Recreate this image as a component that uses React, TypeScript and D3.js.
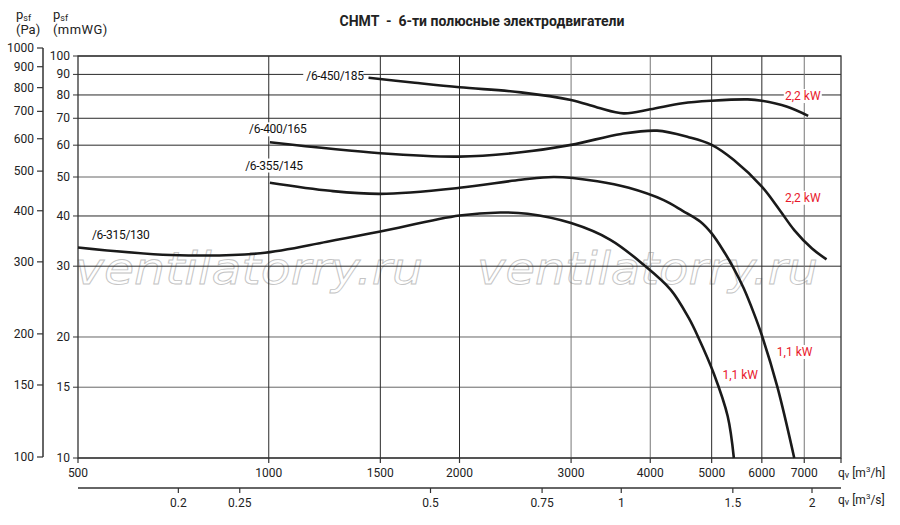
import * as d3 from 'd3'

// flow [m3/h] and pressure [mmWG]
const q450 = [1437, 1700, 2000, 2500, 3000, 3300, 3630, 4000, 4500, 5000, 5700, 6000, 6580, 7100]
const p450 = [88.3, 85.8, 83.6, 81.2, 77.7, 74.5, 72.0, 73.7, 76.3, 77.4, 78.0, 77.4, 74.8, 71.0]

const q400 = [1004, 1500, 2000, 2500, 3000, 3600, 4100, 4600, 5000, 5420, 6000, 6400, 6750, 7200, 7590]
const p400 = [61.0, 57.3, 56.2, 57.6, 60.1, 64.0, 65.2, 62.8, 60.1, 55.1, 47.3, 41.4, 36.9, 33.2, 31.2]

const q355 = [1004, 1250, 1500, 2000, 2500, 2820, 3300, 3700, 4200, 4500, 4800, 5000, 5230, 5420, 5620, 5830, 6000, 6350, 6750]
const p355 = [48.4, 46.2, 45.4, 47.0, 49.2, 50.0, 48.8, 47.0, 43.8, 41.2, 38.7, 36.2, 32.6, 29.6, 26.4, 22.9, 20.2, 15.0, 10.0]

const q315 = [500, 700, 970, 1236, 1500, 2000, 2320, 2560, 3000, 3460, 3910, 4310, 4600, 4760, 5040, 5300, 5420]
const p315 = [33.4, 32.0, 32.3, 34.5, 36.6, 40.1, 40.8, 40.5, 38.4, 34.9, 30.2, 26.2, 22.3, 20.0, 16.2, 12.7, 10.0]

const curves = [
  { name: '/6-450/185', q: q450, p: p450, lq: 1146, lp: 89.0 },
  { name: '/6-400/165', q: q400, p: p400, lq: 931, lp: 65.7 },
  { name: '/6-355/145', q: q355, p: p355, lq: 918, lp: 53.4 },
  { name: '/6-315/130', q: q315, p: p315, lq: 526, lp: 35.9 },
]

const powerLabels = [
  { text: '2,2 kW', q: 6963, p: 79.5 },
  { text: '2,2 kW', q: 6963, p: 44.4 },
  { text: '1,1 kW', q: 5546, p: 16.1 },
  { text: '1,1 kW', q: 6760, p: 18.35 },
]

const mmTicks = [100, 90, 80, 70, 60, 50, 40, 30, 20, 15, 10]
const paTicks = [1000, 900, 800, 700, 600, 500, 400, 300, 200, 150, 100]
const qhTicks = [500, 1000, 1500, 2000, 3000, 4000, 5000, 6000, 7000]
const qsTicks = [0.2, 0.25, 0.5, 0.75, 1, 1.5, 2]
const greyV = [3000, 4000, 7000]
const greyH = [50, 20, 15]

const W = 900
const H = 525
const font = 'Roboto, "Noto Sans", sans-serif'

export default function App() {
  const x = d3.scaleLog().domain([500, 8000]).range([78, 841])
  const y = d3.scaleLog().domain([10, 100]).range([458, 56])
  const yPa = d3.scaleLog().domain([100, 1000]).range([457, 48])

  const line = d3
    .line<[number, number]>()
    .x((d) => x(d[0]))
    .y((d) => y(d[1]))
    .curve(d3.curveCatmullRom.alpha(0.5))

  const x0 = x.range()[0]
  const x1 = x.range()[1]
  const yTop = y.range()[1]
  const yBot = y.range()[0]
  const ySec = 488

  return (
    <svg width={W} height={H} style={{ position: 'absolute', left: 0, top: 0, background: '#fff' }} fontFamily={font}>
      <rect width={W} height={H} fill="#fff" />

      {/* title */}
      <text x={482} y={26} textAnchor="middle" fontSize={14} fontWeight="bold" fill="#222" style={{ whiteSpace: 'pre' }}>
        {'CHMT  -  6-ти полюсные электродвигатели'}
      </text>

      {/* axis headers */}
      <g fontSize={13} fill="#222">
        <text x={16} y={19}>p<tspan fontSize={9} dy={2}>sf</tspan></text>
        <text x={16} y={34}>(Pa)</text>
        <text x={53} y={19}>p<tspan fontSize={9} dy={2}>sf</tspan></text>
        <text x={53} y={34} letterSpacing={0.4}>(mmWG)</text>
      </g>

      {/* watermark */}
      <g fill="none" stroke="#c4c4c4" strokeWidth={0.9} fontSize={44} fontStyle="italic" fontFamily="'DejaVu Sans', sans-serif">
        <text x={75} y={284} textLength={348} lengthAdjust="spacingAndGlyphs">ventilatorry.ru</text>
        <text x={477} y={284} textLength={341} lengthAdjust="spacingAndGlyphs">ventilatorry.ru</text>
      </g>

      {/* horizontal grid */}
      {mmTicks.map((t) => (
        <line key={'h' + t} x1={x0} x2={x1} y1={y(t)} y2={y(t)} stroke={greyH.includes(t) ? '#666' : '#2a2a2a'} strokeWidth={1} />
      ))}
      {/* vertical grid */}
      {qhTicks.slice(1).map((t) => (
        <line key={'v' + t} x1={x(t)} x2={x(t)} y1={yTop} y2={yBot} stroke={greyV.includes(t) ? '#777' : '#2a2a2a'} strokeWidth={1} />
      ))}
      {/* frame */}
      <rect x={x0} y={yTop} width={x1 - x0} height={yBot - yTop} fill="none" stroke="#333" strokeWidth={1.3} />

      {/* mmWG axis */}
      <g fontSize={12} fill="#222">
        {mmTicks.map((t) => (
          <g key={'mm' + t}>
            <line x1={x0 - 5} x2={x0} y1={y(t)} y2={y(t)} stroke="#333" />
            <text x={70} y={y(t)} textAnchor="end" dominantBaseline="central">{t}</text>
          </g>
        ))}
      </g>

      {/* Pa axis */}
      <line x1={43} x2={43} y1={yPa(1000)} y2={yPa(100)} stroke="#333" strokeWidth={1.5} />
      <g fontSize={12} fill="#222">
        {paTicks.map((t) => (
          <g key={'pa' + t}>
            <line x1={37} x2={43} y1={yPa(t)} y2={yPa(t)} stroke="#333" strokeWidth={1.2} />
            <text x={34} y={yPa(t)} textAnchor="end" dominantBaseline="central">{t}</text>
          </g>
        ))}
      </g>

      {/* m3/h axis */}
      <g fontSize={12} fill="#222">
        {[...qhTicks, 8000].map((t) => (
          <line key={'qt' + t} x1={x(t)} x2={x(t)} y1={yBot} y2={yBot + 5} stroke="#333" strokeWidth={1.2} />
        ))}
        {qhTicks.map((t) => (
          <text key={'ql' + t} x={x(t)} y={473} textAnchor="middle" dominantBaseline="central">{t}</text>
        ))}
        <text x={838} y={473} dominantBaseline="central">q<tspan fontSize={9} dy={2}>v</tspan><tspan dy={-2}> [m</tspan><tspan fontSize={8} dy={-4}>3</tspan><tspan dy={4}>/h]</tspan></text>
      </g>

      {/* m3/s axis */}
      <line x1={x0} x2={x1} y1={ySec} y2={ySec} stroke="#333" strokeWidth={1.5} />
      <g fontSize={12} fill="#222">
        {qsTicks.map((t) => (
          <g key={'qs' + t}>
            <line x1={x(t * 3600)} x2={x(t * 3600)} y1={ySec} y2={ySec + 5} stroke="#333" strokeWidth={1.2} />
            <text x={x(t * 3600)} y={503} textAnchor="middle" dominantBaseline="central">{t}</text>
          </g>
        ))}
        <text x={838} y={500} dominantBaseline="central">q<tspan fontSize={9} dy={2}>v</tspan><tspan dy={-2}> [m</tspan><tspan fontSize={8} dy={-4}>3</tspan><tspan dy={4}>/s]</tspan></text>
      </g>

      {/* fan curves */}
      {curves.map((c) => (
        <path
          key={c.name}
          d={line(c.q.map((v, i) => [v, c.p[i]] as [number, number])) || ''}
          fill="none"
          stroke="#1a1a1a"
          strokeWidth={2.6}
        />
      ))}

      {/* curve labels */}
      <g fontSize={12} fill="#111">
        {curves.map((c) => (
          <g key={'l' + c.name}>
            <rect x={x(c.lq) - 3} y={y(c.lp) - 7} width={60} height={14} fill="#fff" />
            <text x={x(c.lq)} y={y(c.lp)} dominantBaseline="central" letterSpacing={-0.3}>{c.name}</text>
          </g>
        ))}
      </g>

      {/* motor power labels */}
      <g fontSize={12} fill="#e8192c">
        {powerLabels.map((l, i) => (
          <g key={'pw' + i}>
            <rect x={x(l.q) - 19} y={y(l.p) - 7} width={38} height={14} fill="#fff" />
            <text x={x(l.q)} y={y(l.p)} textAnchor="middle" dominantBaseline="central">{l.text}</text>
          </g>
        ))}
      </g>
    </svg>
  )
}
